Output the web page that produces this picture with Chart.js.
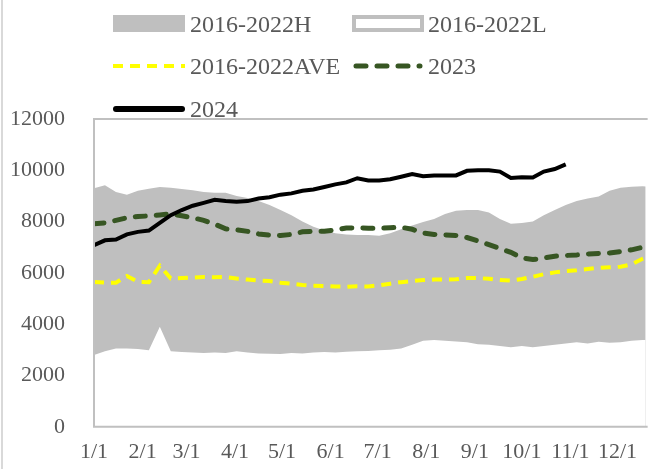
<!DOCTYPE html>
<html>
<head>
<meta charset="utf-8">
<script src="https://cdn.jsdelivr.net/npm/chart.js@4"></script>
<style>
  body { margin: 0; background: #fff; overflow: hidden; }
  canvas { display: block; }
</style>
</head>
<body>
<canvas id="chart" width="649" height="469"></canvas>
<script>
// weekly values, week i starts on day 7*i of the year
const high = [9300, 9420, 9150, 9050, 9200, 9280, 9350, 9320, 9270, 9220, 9150, 9120, 9120, 9000, 8920, 8800, 8650, 8450, 8250, 8000,
    7800, 7650, 7550, 7500, 7480, 7480, 7450, 7550, 7700, 7850, 7980, 8100, 8300, 8420, 8450, 8450, 8350, 8100, 7920, 7950,
    8000, 8250, 8450, 8650, 8800, 8900, 8980, 9200, 9320, 9360, 9380, 9350];
const low = [2800, 2950, 3050, 3050, 3030, 2980, 3900, 2950, 2920, 2900, 2880, 2900, 2880, 2950, 2900, 2860, 2850, 2840, 2880, 2860,
    2900, 2920, 2900, 2930, 2950, 2960, 2980, 3000, 3050, 3200, 3350, 3380, 3350, 3330, 3300, 3220, 3200, 3150, 3100, 3150,
    3100, 3150, 3200, 3250, 3300, 3250, 3320, 3280, 3300, 3350, 3380, 3400];
const avg = [5650, 5620, 5620, 5880, 5650, 5640, 6280, 5780, 5800, 5820, 5840, 5830, 5840, 5780, 5740, 5700, 5680, 5620, 5580, 5530,
    5500, 5490, 5470, 5460, 5480, 5470, 5520, 5580, 5640, 5680, 5720, 5740, 5740, 5750, 5800, 5800, 5770, 5720, 5700, 5760,
    5850, 5950, 6020, 6070, 6100, 6150, 6200, 6220, 6240, 6330, 6550, 6700];
const y2023 = [7920, 7950, 8050, 8150, 8200, 8220, 8260, 8300, 8230, 8150, 8050, 7900, 7720, 7680, 7620, 7520, 7470, 7460, 7500, 7600,
    7620, 7620, 7680, 7750, 7760, 7740, 7740, 7760, 7780, 7700, 7560, 7500, 7480, 7460, 7380, 7250, 7100, 6950, 6800, 6580,
    6520, 6580, 6650, 6680, 6700, 6740, 6760, 6780, 6830, 6900, 7000, 7100];
const y2024 = [7080, 7270, 7300, 7500, 7600, 7650, 7950, 8250, 8450, 8620, 8730, 8850, 8800, 8770, 8800, 8900, 8950, 9050, 9100, 9200,
    9250, 9350, 9450, 9530, 9690, 9600, 9600, 9650, 9750, 9850, 9770, 9800, 9800, 9800, 9980, 10000, 10000, 9950, 9700, 9730,
    9720, 9950, 10050, 10230];

const monthDays = [0, 31, 59, 90, 120, 151, 181, 212, 243, 273, 304, 334];
const monthLabels = ['1/1', '2/1', '3/1', '4/1', '5/1', '6/1', '7/1', '8/1', '9/1', '10/1', '11/1', '12/1'];
const yTicks = [0, 2000, 4000, 6000, 8000, 10000, 12000];

const textColor = '#595959';
const fontFamily = "'Liberation Serif', 'Times New Roman', serif";
const avgDash = [10, 7];
const dash2023 = [10, 11];

const toPoints = arr => arr.map((v, i) => ({ x: i * 7, y: v }));

// legend + frames drawn by hand
const decor = {
    id: 'decor',
    beforeDraw(chart) {
        const c = chart.ctx;
        c.save();
        c.fillStyle = '#fff';
        c.fillRect(0, 0, chart.width, chart.height);
        c.fillStyle = '#d9d9d9';
        c.fillRect(1, 0, 2, chart.height);
        c.restore();
    },
    afterDraw(chart) {
        const c = chart.ctx;
        const a = chart.chartArea;
        c.save();
        // plot frame (right side is cut off)
        c.strokeStyle = '#c0c0c0';
        c.lineWidth = 2;
        c.beginPath();
        c.moveTo(a.right + 2, a.top);
        c.lineTo(a.left, a.top);
        c.lineTo(a.left, a.bottom);
        c.lineTo(a.right + 2, a.bottom);
        c.stroke();

        // legend
        c.font = '24px ' + fontFamily;
        c.fillStyle = textColor;
        c.textBaseline = 'middle';
        c.fillText('2016-2022H', 190, 26);
        c.fillText('2016-2022L', 428, 26);
        c.fillText('2016-2022AVE', 190, 68);
        c.fillText('2023', 428, 68);
        c.fillText('2024', 190, 111);

        c.fillStyle = '#bfbfbf';
        c.fillRect(113, 15, 72, 17);
        c.strokeStyle = '#bfbfbf';
        c.lineWidth = 4;
        c.strokeRect(354, 17, 68, 13);

        c.lineWidth = 4;
        c.strokeStyle = '#ffff00';
        c.setLineDash(avgDash);
        c.beginPath(); c.moveTo(113, 66); c.lineTo(185, 66); c.stroke();

        c.lineWidth = 5;
        c.lineCap = 'round';
        c.strokeStyle = '#375623';
        c.setLineDash(dash2023);
        c.beginPath(); c.moveTo(356, 66); c.lineTo(420, 66); c.stroke();

        c.setLineDash([]);
        c.lineWidth = 6;
        c.strokeStyle = '#000';
        c.beginPath(); c.moveTo(116, 109); c.lineTo(182, 109); c.stroke();
        c.restore();
    }
};

const ctx = document.getElementById('chart');

new Chart(ctx, {
    type: 'line',
    data: {
        datasets: [
            { label: '2016-2022H', data: toPoints(high), fill: 'origin', backgroundColor: '#bfbfbf', borderWidth: 0, order: 5 },
            { label: '2016-2022L', data: toPoints(low), fill: 'origin', backgroundColor: '#ffffff', borderWidth: 0, order: 4 },
            { label: '2016-2022AVE', data: toPoints(avg), borderColor: '#ffff00', borderWidth: 4, borderDash: avgDash, fill: false, order: 3 },
            { label: '2023', data: toPoints(y2023), borderColor: '#375623', borderWidth: 5, borderDash: dash2023, borderCapStyle: 'round', fill: false, order: 2 },
            { label: '2024', data: toPoints(y2024), borderColor: '#000000', borderWidth: 4, fill: false, order: 1 }
        ]
    },
    options: {
        responsive: false,
        animation: false,
        devicePixelRatio: 1,
        elements: { point: { radius: 0 }, line: { tension: 0 } },
        layout: { padding: { top: 119, left: 0, right: 0, bottom: 0 } },
        plugins: {
            legend: { display: false },
            tooltip: { enabled: false }
        },
        scales: {
            x: {
                type: 'linear',
                min: 0,
                max: 352,
                afterBuildTicks: axis => { axis.ticks = monthDays.map(v => ({ value: v })); },
                afterFit: axis => { axis.height = 39; },
                grid: { display: false, drawTicks: false },
                border: { display: false },
                ticks: {
                    autoSkip: false,
                    maxRotation: 0,
                    padding: 12,
                    color: textColor,
                    font: { family: fontFamily, size: 22 },
                    callback: (value, index) => monthLabels[index]
                }
            },
            y: {
                min: 0,
                max: 12000,
                afterBuildTicks: axis => { axis.ticks = yTicks.map(v => ({ value: v })); },
                afterFit: axis => { axis.width = 94; },
                grid: { display: false, drawTicks: false },
                border: { display: false },
                ticks: {
                    padding: 29,
                    color: textColor,
                    font: { family: fontFamily, size: 22 },
                    callback: value => String(value)
                }
            }
        }
    },
    plugins: [decor]
});
</script>
</body>
</html>
